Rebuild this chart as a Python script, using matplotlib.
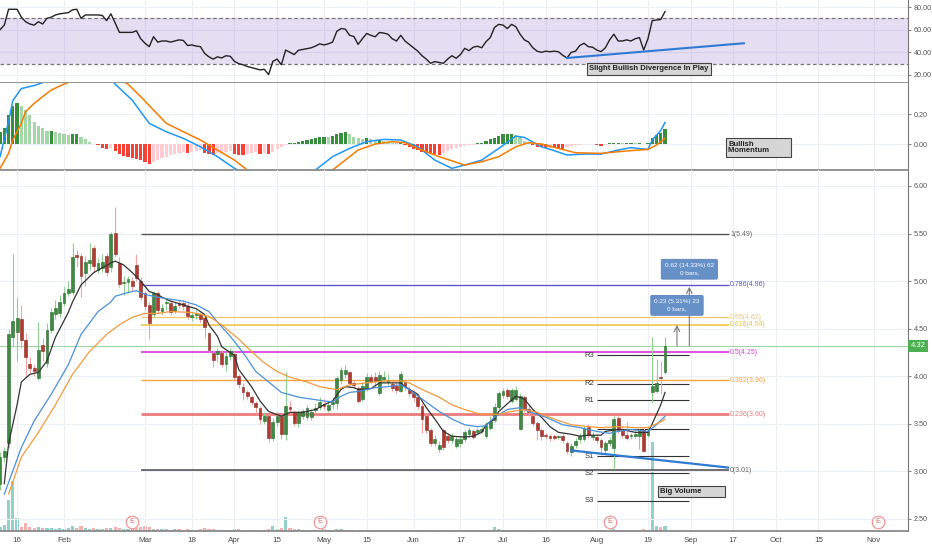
import matplotlib
matplotlib.use('Agg')
import matplotlib.pyplot as plt
from matplotlib.patches import Rectangle

plt.rcParams['font.family'] = ['Liberation Sans', 'DejaVu Sans']

# ---- daily bars (index 0 = 10 Jan 2019) ----
opens = [2.87, 3.15, 3.30, 4.41, 4.47, 4.60, 4.38, 4.13, 4.09, 3.98,
         4.33, 4.14, 4.49, 4.65, 4.66, 4.77, 4.88, 4.89, 5.27, 5.26,
         5.09, 5.19, 5.35, 5.12, 5.14, 5.26, 5.15, 5.51, 5.19, 4.98,
         4.99, 5.00, 5.17, 5.00, 4.87, 4.75, 4.65, 4.87, 4.69, 4.77,
         4.77, 4.69, 4.77, 4.77, 4.74, 4.62, 4.64, 4.65, 4.61, 4.45,
         4.24, 4.23, 4.24, 4.13, 4.21, 4.23, 4.00, 3.89, 3.83, 3.78,
         3.72, 3.67, 3.53, 3.58, 3.35, 3.52, 3.58, 3.39, 3.68, 3.61,
         3.51, 3.58, 3.57, 3.57, 3.64, 3.68, 3.71, 3.65, 3.71, 3.72,
         3.96, 4.02, 4.04, 3.93, 3.88, 3.76, 3.87, 3.99, 3.99, 3.82,
         3.97, 3.94, 3.92, 3.90, 3.85, 3.94, 3.86, 3.82, 3.78, 3.69,
         3.58, 3.44, 3.30, 3.23, 3.44, 3.37, 3.33, 3.27, 3.30, 3.34,
         3.39, 3.42, 3.41, 3.42, 3.37, 3.46, 3.54, 3.68, 3.80, 3.86,
         3.74, 3.76, 3.45, 3.78, 3.66, 3.58, 3.51, 3.44, 3.38, 3.37,
         3.37, 3.36, 3.37, 3.30, 3.20, 3.28, 3.34, 3.34, 3.47, 3.36,
         3.36, 3.33, 3.22, 3.30, 3.25, 3.56, 3.45, 3.38, 3.37, 3.37,
         3.37, 3.44, 3.38, 3.83, 3.85, 3.99, 4.04]
highs = [3.20, 3.26, 4.50, 5.28, 4.83, 4.75, 4.45, 4.20, 4.12, 4.57,
         4.40, 4.56, 4.72, 4.80, 4.85, 4.95, 5.00, 5.40, 5.33, 5.30,
         5.26, 5.40, 5.38, 5.24, 5.28, 5.30, 5.52, 5.78, 5.25, 5.05,
         5.05, 5.04, 5.28, 5.04, 4.90, 4.78, 4.90, 4.90, 4.76, 4.82,
         4.80, 4.78, 4.80, 4.80, 4.77, 4.68, 4.70, 4.68, 4.63, 4.47,
         4.27, 4.30, 4.28, 4.25, 4.30, 4.27, 4.02, 3.93, 3.86, 3.80,
         3.74, 3.69, 3.62, 3.60, 3.56, 3.62, 3.60, 4.04, 3.74, 3.64,
         3.64, 3.66, 3.70, 3.66, 3.72, 3.78, 3.76, 3.74, 3.78, 4.00,
         4.10, 4.12, 4.06, 3.96, 3.90, 3.94, 4.03, 4.02, 4.04, 4.05,
         4.05, 4.02, 3.95, 3.93, 4.05, 3.97, 3.90, 3.86, 3.81, 3.72,
         3.60, 3.46, 3.38, 3.32, 3.46, 3.40, 3.40, 3.37, 3.37, 3.44,
         3.47, 3.45, 3.46, 3.48, 3.52, 3.58, 3.72, 3.85, 3.88, 3.88,
         3.88, 3.90, 3.82, 3.80, 3.70, 3.60, 3.53, 3.46, 3.40, 3.39,
         3.39, 3.38, 3.40, 3.32, 3.30, 3.35, 3.40, 3.48, 3.50, 3.41,
         3.39, 3.35, 3.32, 3.36, 3.58, 3.58, 3.48, 3.52, 3.40, 3.42,
         3.45, 3.46, 3.47, 4.41, 4.18, 4.16, 4.41]
lows = [2.80, 3.10, 3.25, 4.31, 4.16, 4.30, 3.99, 4.03, 4.00, 3.96,
        4.16, 4.10, 4.45, 4.60, 4.62, 4.74, 4.84, 4.85, 5.15, 4.83,
        4.95, 5.12, 5.10, 5.08, 5.10, 5.05, 5.10, 5.25, 4.94, 4.85,
        4.88, 4.90, 5.00, 4.80, 4.70, 4.39, 4.62, 4.66, 4.64, 4.70,
        4.64, 4.66, 4.72, 4.70, 4.60, 4.58, 4.60, 4.57, 4.40, 4.25,
        4.10, 4.15, 4.10, 4.05, 4.17, 3.96, 3.88, 3.75, 3.76, 3.70,
        3.60, 3.50, 3.50, 3.31, 3.32, 3.48, 3.34, 3.33, 3.60, 3.48,
        3.47, 3.55, 3.54, 3.54, 3.60, 3.64, 3.66, 3.62, 3.66, 3.66,
        3.92, 3.98, 3.90, 3.88, 3.72, 3.74, 3.84, 3.92, 3.90, 3.80,
        3.94, 3.91, 3.85, 3.82, 3.83, 3.86, 3.78, 3.74, 3.66, 3.40,
        3.40, 3.27, 3.27, 3.20, 3.22, 3.30, 3.30, 3.25, 3.26, 3.31,
        3.36, 3.34, 3.38, 3.40, 3.35, 3.44, 3.52, 3.66, 3.77, 3.76,
        3.72, 3.74, 3.44, 3.62, 3.58, 3.48, 3.33, 3.33, 3.34, 3.32,
        3.33, 3.34, 3.30, 3.18, 3.16, 3.25, 3.30, 3.32, 3.35, 3.33,
        3.30, 3.17, 3.18, 3.27, 3.02, 3.40, 3.35, 3.33, 3.34, 3.35,
        3.24, 3.20, 3.36, 3.72, 3.82, 3.81, 4.02]
closes = [3.15, 3.21, 4.44, 4.58, 4.61, 4.38, 4.20, 4.09, 4.05, 4.28,
          4.26, 4.49, 4.67, 4.72, 4.78, 4.88, 4.92, 5.25, 5.25, 5.05,
          5.20, 5.22, 5.16, 5.19, 5.20, 5.10, 5.50, 5.28, 4.97, 4.99,
          5.02, 4.95, 5.03, 4.83, 4.74, 4.56, 4.87, 4.70, 4.72, 4.78,
          4.68, 4.74, 4.75, 4.74, 4.63, 4.64, 4.66, 4.60, 4.52, 4.28,
          4.17, 4.26, 4.13, 4.21, 4.26, 3.99, 3.92, 3.83, 3.79, 3.73,
          3.68, 3.55, 3.58, 3.35, 3.52, 3.58, 3.39, 3.69, 3.66, 3.51,
          3.61, 3.63, 3.67, 3.62, 3.67, 3.73, 3.69, 3.70, 3.73, 3.98,
          4.07, 4.07, 3.93, 3.91, 3.74, 3.90, 3.99, 3.95, 3.95, 4.01,
          3.99, 3.96, 3.88, 3.86, 4.02, 3.90, 3.82, 3.78, 3.69, 3.55,
          3.44, 3.30, 3.34, 3.28, 3.26, 3.33, 3.37, 3.34, 3.34, 3.41,
          3.44, 3.36, 3.44, 3.45, 3.49, 3.53, 3.68, 3.82, 3.84, 3.79,
          3.86, 3.86, 3.79, 3.66, 3.62, 3.51, 3.44, 3.37, 3.37, 3.35,
          3.35, 3.36, 3.33, 3.21, 3.27, 3.32, 3.37, 3.46, 3.38, 3.38,
          3.33, 3.26, 3.30, 3.33, 3.55, 3.43, 3.38, 3.35, 3.37, 3.39,
          3.42, 3.21, 3.42, 3.90, 3.93, 3.98, 4.32]
volume = [4, 6, 31, 50, 13, 4, 8, 4, 3, 4,
          3, 3, 3, 2, 3, 2, 3, 5, 3, 5,
          3, 2, 3, 2, 2, 3, 3, 4, 3, 2,
          2, 2, 3, 4, 5, 4, 2, 2, 2, 2,
          1, 2, 2, 1, 2, 1, 1, 2, 3, 2,
          2, 1, 1, 1, 1, 2, 2, 1, 1, 1,
          1, 1, 1, 2, 5, 2, 3, 14, 3, 2,
          2, 1, 1, 1, 1, 1, 2, 1, 1, 2,
          2, 1, 1, 1, 1, 1, 1, 1, 1, 1,
          1, 1, 1, 1, 1, 1, 1, 1, 1, 1,
          1, 1, 1, 1, 1, 1, 1, 1, 1, 1,
          1, 1, 1, 1, 1, 1, 4, 2, 1, 1,
          1, 1, 1, 1, 1, 1, 1, 1, 1, 1,
          1, 1, 1, 1, 1, 1, 1, 1, 1, 1,
          1, 1, 1, 1, 2, 1, 1, 1, 1, 1,
          1, 2, 1, 89, 5, 4, 5]

# ---- moving averages (vertices) ----
ma_fast_x = [1, 2, 4, 5, 7, 9, 11, 13, 16, 17, 19, 22, 24, 26, 27, 29, 31, 33, 35, 37,
             38, 40, 43, 46, 48, 49, 51, 52, 55, 56, 59, 61, 63, 66, 68, 71, 74, 76, 78, 80,
             81, 83, 84, 87, 89, 91, 94, 95, 98, 100, 102, 104, 106, 109, 111, 113, 114, 116, 117, 119,
             121, 123, 125, 127, 129, 131, 134, 136, 138, 141, 142, 145, 147, 149, 152, 153, 155, 156]
ma_fast = [2.87, 3.29, 3.70, 3.94, 4.02, 4.04, 4.16, 4.41, 4.67, 4.78, 4.96, 5.09, 5.14, 5.19, 5.21, 5.17, 5.09, 5.00, 4.89, 4.86,
           4.83, 4.79, 4.75, 4.71, 4.65, 4.54, 4.42, 4.31, 4.22, 4.07, 3.89, 3.74, 3.63, 3.58, 3.62, 3.62, 3.65, 3.70, 3.74, 3.86,
           3.89, 3.88, 3.86, 3.87, 3.93, 3.93, 3.93, 3.89, 3.81, 3.67, 3.55, 3.42, 3.37, 3.36, 3.37, 3.41, 3.49, 3.55, 3.63, 3.71,
           3.79, 3.76, 3.65, 3.57, 3.47, 3.41, 3.39, 3.37, 3.38, 3.38, 3.42, 3.44, 3.43, 3.41, 3.41, 3.50, 3.70, 3.83]
ma_mid_x = [1, 5, 8, 12, 16, 19, 23, 26, 27, 30, 32, 34, 37, 40, 43, 46, 49, 51, 54, 57,
            60, 63, 66, 70, 73, 76, 78, 80, 82, 84, 88, 91, 94, 96, 99, 103, 106, 109, 112, 114,
            116, 119, 122, 124, 128, 132, 136, 140, 143, 145, 148, 152, 154, 156]
ma_mid = [2.76, 3.25, 3.53, 3.81, 4.12, 4.44, 4.68, 4.78, 4.84, 4.88, 4.90, 4.86, 4.83, 4.81, 4.79, 4.75, 4.68, 4.57, 4.42, 4.25,
          4.05, 3.94, 3.83, 3.78, 3.76, 3.74, 3.73, 3.79, 3.83, 3.84, 3.88, 3.89, 3.91, 3.86, 3.76, 3.63, 3.55, 3.49, 3.47, 3.48,
          3.57, 3.65, 3.67, 3.63, 3.57, 3.49, 3.46, 3.42, 3.40, 3.42, 3.44, 3.42, 3.49, 3.58]
ma_slow_x = [2, 5, 9, 13, 17, 21, 25, 28, 31, 34, 37, 40, 45, 49, 52, 56, 59, 62, 65, 68,
             72, 75, 79, 82, 86, 90, 94, 96, 99, 103, 106, 109, 112, 114, 117, 120, 123, 126, 130, 134,
             138, 141, 145, 149, 152, 155, 156]
ma_slow = [2.76, 3.15, 3.41, 3.70, 4.02, 4.26, 4.44, 4.54, 4.62, 4.66, 4.66, 4.68, 4.67, 4.63, 4.54, 4.39, 4.26, 4.14, 4.05, 3.99,
           3.94, 3.89, 3.86, 3.91, 3.93, 3.95, 3.95, 3.93, 3.86, 3.78, 3.70, 3.65, 3.61, 3.60, 3.60, 3.63, 3.65, 3.62, 3.55, 3.49,
           3.47, 3.46, 3.47, 3.46, 3.46, 3.52, 3.55]

# ---- RSI ----
rsi = [60, 64, 78, 78, 78, 71, 67, 65, 64, 67,
       65, 70, 71, 73, 74, 74.5, 75, 77.5, 78, 70,
       73, 73, 73, 73, 72.5, 68, 74, 66, 57.6, 57.6,
       57.6, 57.6, 59, 52, 48, 45, 53.8, 49, 50, 50,
       49, 50, 51, 50.5, 46, 46.5, 45.5, 45, 39, 36,
       34, 36, 35, 37, 36.5, 32, 30, 29, 27.5, 26.5,
       25.5, 24.5, 25, 20.3, 32, 34, 29, 42, 40, 38,
       41.8, 42.5, 43.3, 44, 45.5, 47.5, 46.5, 47.5, 49, 58.5,
       61, 60.5, 55, 54, 47, 52, 56.6, 55, 53.7, 57.5,
       57, 56, 52, 50, 55, 50, 47, 44, 41, 37,
       34, 30.3, 31.8, 31, 30.3, 34, 37, 34.7, 38, 43.5,
       41.5, 44.5, 45.4, 44, 49.4, 53, 62, 64.7, 64, 61,
       64.7, 62.6, 56, 51, 49, 44, 41, 40, 41, 40.5,
       41, 40.5, 37.4, 35, 40, 41, 46, 48, 45, 44.5,
       42, 40.6, 44, 51, 56, 50, 50, 51, 50, 52,
       53, 42, 52, 68, 68.5, 69, 76]
rsi_trend_x = [133, 174.5]
rsi_trend_y = [35, 48]

# ---- MACD ----
macd_hist = [0.082, 0.109, 0.193, 0.253, 0.271, 0.253, 0.227, 0.193, 0.149, 0.12,
             0.104, 0.087, 0.087, 0.078, 0.071, 0.064, 0.06, 0.067, 0.067, 0.049,
             0.031, 0.016, 0.002, -0.009, -0.024, -0.033, -0.029, -0.044, -0.067, -0.08,
             -0.089, -0.096, -0.102, -0.107, -0.118, -0.133, -0.118, -0.107, -0.096, -0.084,
             -0.073, -0.067, -0.058, -0.051, -0.062, -0.051, -0.044, -0.04, -0.058, -0.067,
             -0.073, -0.062, -0.058, -0.051, -0.044, -0.067, -0.071, -0.076, -0.067, -0.058,
             -0.051, -0.067, -0.058, -0.067, -0.051, -0.036, -0.018, -0.009, 0.004, 0.009,
             0.016, 0.022, 0.027, 0.031, 0.038, 0.049, 0.049, 0.044, 0.053, 0.067,
             0.076, 0.08, 0.067, 0.049, 0.038, 0.031, 0.038, 0.031, 0.027, 0.027,
             0.022, 0.016, 0.009, 0.004, 0.004, -0.009, -0.018, -0.031, -0.04, -0.051,
             -0.058, -0.067, -0.067, -0.071, -0.058, -0.044, -0.036, -0.029, -0.018, -0.011,
             -0.009, -0.004, 0.004, 0.009, 0.02, 0.031, 0.042, 0.056, 0.064, 0.064,
             0.064, 0.06, 0.044, 0.022, 0.009, -0.009, -0.018, -0.022, -0.029, -0.024,
             -0.029, -0.031, -0.033, -0.018, -0.011, -0.007, -0.004, -0.002, 0.0, -0.002,
             -0.009, -0.011, -0.004, 0.009, 0.009, 0.009, 0.004, 0.004, 0.009, 0.004,
             0.007, 0.002, 0.01, 0.038, 0.06, 0.076, 0.1]
macd_x = [0, 2, 3, 5, 8, 10, 15, 20, 25, 27, 31, 35, 39, 43, 47, 51, 55, 60, 66, 74,
          78, 82, 86, 90, 94, 98, 102, 106, 109, 113, 117, 121, 123, 127, 130, 133, 137, 141, 145, 148,
          152, 153, 155, 156]
macd_line = [-0.084, 0.15, 0.29, 0.37, 0.39, 0.41, 0.44, 0.47, 0.46, 0.40, 0.293, 0.138, 0.082, 0.038, -0.018, -0.084, -0.162, -0.24, -0.25, -0.173,
             -0.084, -0.029, 0.016, 0.031, 0.027, -0.018, -0.107, -0.162, -0.14, -0.107, -0.029, 0.053, 0.044, -0.018, -0.044, -0.073, -0.067, -0.067, -0.04, -0.024,
             -0.036, 0.027, 0.09, 0.144]
signal_x = [0, 2, 3, 5, 6, 8, 10, 12, 15, 20, 25, 30, 33, 36, 39, 43, 47, 51, 55, 58,
            65, 72, 78, 81, 84, 88, 92, 95, 98, 103, 109, 113, 117, 121, 124, 127, 131, 135, 141, 145,
            148, 152, 154, 156]
signal_line = [-0.162, -0.062, 0.027, 0.138, 0.216, 0.271, 0.316, 0.36, 0.40, 0.45, 0.47, 0.40, 0.316, 0.227, 0.138, 0.082, 0.027, -0.04, -0.107, -0.173,
               -0.23, -0.22, -0.173, -0.107, -0.04, 0.0, 0.016, 0.009, -0.029, -0.084, -0.14, -0.118, -0.084, -0.018, 0.009, 0.0, -0.029, -0.058, -0.062, -0.051,
               -0.044, -0.036, -0.007, 0.038]

# ---- drawings ----
fib_names = ['1', '0.786', '0.65', '0.618', '0.5', '0.382', '0.236', '0']
fib_prices = [5.49, 4.96, 4.62, 4.54, 4.25, 3.96, 3.60, 3.01]
fib_colors = ['#555555', '#5b57d0', '#f3c66e', '#f0c13c', '#e33fe0', '#f5a53f', '#ec7b7b', '#555555']
fib_widths = [1.0, 1.0, 0.9, 1.1, 1.3, 1.0, 2.0, 1.2]
pivot_names = ['R3', 'R2', 'R1', '', 'S1', 'S2', 'S3']
pivot_prices = [4.22, 3.92, 3.75, 3.45, 3.16, 2.98, 2.69]
trend_x = [134, 170.8]
trend_y = [3.22, 3.04]
earnings_idx = [31, 75, 143, 206]
last_price = 4.32

date_ticks = [4, 15, 34, 45, 55, 65, 76, 86, 97, 108, 118, 128, 140, 152, 162, 172, 182, 192, 205]
date_labels = ['16', 'Feb', 'Mar', '18', 'Apr', '15', 'May', '15', 'Jun', '17',
               'Jul', '16', 'Aug', '19', 'Sep', '17', 'Oct', '15', 'Nov']

W, H = 932, 550
fig = plt.figure(figsize=(W / 100, H / 100), dpi=100)


def panel(top, bottom):
    return [0, 1 - bottom / H, 908 / W, (bottom - top) / H]


ax_rsi = fig.add_axes(panel(0, 83))
ax_macd = fig.add_axes(panel(83, 170), sharex=ax_rsi)
ax_vol = fig.add_axes(panel(170, 531), sharex=ax_rsi)
ax = fig.add_axes(panel(170, 531), sharex=ax_rsi)
ax_vol.set_zorder(0)
ax.set_zorder(1)
ax.patch.set_visible(False)


def style(a, ticks, fmt):
    for s in ['top', 'left']:
        a.spines[s].set_visible(False)
    a.spines['right'].set_color('#777777')
    a.spines['bottom'].set_color('#8a8a8a')
    a.spines['bottom'].set_linewidth(1.3)
    a.yaxis.tick_right()
    a.set_yticks(ticks)
    a.set_yticklabels([fmt % t for t in ticks])
    a.tick_params(axis='y', labelsize=5.2, colors='#888888', labelcolor='#555555', length=2.5, pad=1.5)
    a.tick_params(axis='x', length=0, labelbottom=False)
    a.set_xticks(date_ticks)
    a.grid(True, color='#eceff5', lw=0.8)
    a.set_axisbelow(True)


ax_rsi.set_xlim(-0.01, 213.0)

# RSI panel
style(ax_rsi, [20, 40, 60, 80], '%.2f')
ax_rsi.set_ylim(12.9, 86.2)
ax_rsi.axhspan(30, 70, color='#7e57c2', alpha=0.2, lw=0)
ax_rsi.axhline(70, color='#777777', lw=0.9, ls=(0, (3, 2)))
ax_rsi.axhline(30, color='#777777', lw=0.9, ls=(0, (3, 2)))
ax_rsi.plot(range(len(rsi)), rsi, color='#222222', lw=1.0)
ax_rsi.plot(rsi_trend_x, rsi_trend_y, color='#2f7ad4', lw=1.5)
box_kw = dict(boxstyle='square,pad=0.3', fc='#d6d6d6', ec='#444444', lw=0.8)
ax_rsi.text(138.2, 25.3, 'Slight Bullish Divergence In Play', fontsize=5.5, fontweight='bold',
            color='#222222', ha='left', va='center', bbox=box_kw)

# MACD panel
style(ax_macd, [0.0, 0.2], '%.2f')
ax_macd.set_ylim(-0.173, 0.407)
hist_colors = []
prev = 0
for h in macd_hist:
    if h >= 0:
        hist_colors.append('#388e3c' if h >= prev else '#a5d6a7')
    else:
        hist_colors.append('#f44336' if h <= prev else '#ffcdd2')
    prev = h
ax_macd.bar(range(len(macd_hist)), macd_hist, width=0.75, color=hist_colors, lw=0)
ax_macd.plot(macd_x, macd_line, color='#2196f3', lw=1.1)
ax_macd.plot(signal_x, signal_line, color='#f57c00', lw=1.1)
ax_macd.text(170.8, -0.023, 'Bullish\nMomentum         ', fontsize=5.5, fontweight='bold',
             color='#222222', ha='left', va='center', linespacing=1.0, bbox=box_kw)

# volume (overlay at bottom of price panel)
ax_vol.axis('off')
ax_vol.set_ylim(0, 362)
vol_colors = ['#93d2cb' if c >= o else '#f6b0ae' for o, c in zip(opens, closes)]
ax_vol.bar(range(len(volume)), volume, width=0.75, color=vol_colors, lw=0)

# price panel
style(ax, [2.5, 3.0, 3.5, 4.0, 4.5, 5.0, 5.5, 6.0], '%.2f')
ax.set_ylim(2.373, 6.168)
ax.tick_params(axis='x', labelbottom=True, labelsize=5.8, labelcolor='#4a4a4a', pad=4.5)
ax.set_xticklabels(date_labels)

for name, p, c, w in zip(fib_names, fib_prices, fib_colors, fib_widths):
    ax.hlines(p, 33, 171, color=c, lw=w, zorder=2)
    lab_c = '#666666' if c == '#555555' else c
    ax.text(171.3, p, '%s(%.2f)' % (name, p), fontsize=5, color=lab_c, ha='left', va='center')

ax.axhline(last_price, color='#9fd6a8', lw=0.8, zorder=2)
ax.text(1.003, last_price, '%.2f' % last_price, transform=ax.get_yaxis_transform(), fontsize=5.5,
        color='white', ha='left', va='center', clip_on=False,
        bbox=dict(boxstyle='square,pad=0.3', fc='#4caf50', ec='none'))

for name, p in zip(pivot_names, pivot_prices):
    ax.hlines(p, 140, 161.6, color='#333333', lw=0.8, zorder=2)
    if name:
        ax.text(139.4, p, name, fontsize=5.5, color='#333333', ha='right', va='center')

ax.plot(trend_x, trend_y, color='#2f7ad4', lw=1.6, zorder=6)

for i in range(len(closes)):
    up = closes[i] >= opens[i]
    ax.vlines(i, lows[i], highs[i], color='#8fcf8f' if up else '#f2a3a3', lw=0.8, zorder=3)
    lo = min(opens[i], closes[i])
    ht = max(abs(closes[i] - opens[i]), 0.012)
    ax.add_patch(Rectangle((i - 0.33, lo), 0.66, ht, fc='#3d8a40' if up else '#b03b30',
                           ec='#2d6a30' if up else '#8a2a22', lw=0.4, zorder=4))

ax.plot(ma_fast_x, ma_fast, color='#333333', lw=0.9, zorder=5)
ax.plot(ma_mid_x, ma_mid, color='#4a90d9', lw=0.9, zorder=5)
ax.plot(ma_slow_x, ma_slow, color='#f29a3e', lw=0.9, zorder=5)

ax.annotate('', xy=(158.8, 4.54), xytext=(158.8, last_price),
            arrowprops=dict(arrowstyle='->', color='#7a7a7a', lw=0.8, shrinkA=0, shrinkB=0), zorder=6)
ax.annotate('', xy=(161.7, 4.94), xytext=(161.7, last_price),
            arrowprops=dict(arrowstyle='->', color='#7a7a7a', lw=0.8, shrinkA=0, shrinkB=0), zorder=6)
meas_kw = dict(boxstyle='round,pad=0.55,rounding_size=0.2', fc='#6690c8', ec='#5a83bb', lw=0.6)
ax.text(158.8, 4.745, '0.23 (5.31%) 23\n0 bars,', fontsize=4.6, color='white', ha='center',
        va='center', linespacing=1.7, bbox=meas_kw, zorder=7)
ax.text(161.7, 5.125, '0.62 (14.33%) 62\n0 bars,', fontsize=4.6, color='white', ha='center',
        va='center', linespacing=1.7, bbox=meas_kw, zorder=7)

ax.text(154.8, 2.787, 'Big Volume          ', fontsize=5.5, fontweight='bold', color='#222222',
        ha='left', va='center', bbox=box_kw, zorder=7)

for e in earnings_idx:
    ax.plot(e, 0.025, 'o', ms=9, mfc='white', mec='#f08c8c', mew=0.8,
            transform=ax.get_xaxis_transform(), zorder=6, clip_on=False)
    ax.text(e, 0.025, 'E', fontsize=5.5, color='#e06a6a', ha='center', va='center',
            transform=ax.get_xaxis_transform(), zorder=7)

fig.savefig('out.png', dpi=100)
